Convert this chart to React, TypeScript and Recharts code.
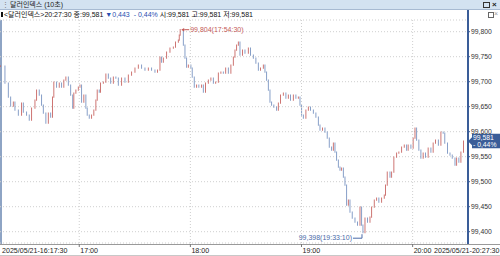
import React from 'react';
import { ComposedChart, Bar, Cell, XAxis, YAxis, CartesianGrid, ReferenceLine, ReferenceDot } from 'recharts';

// minutes elapsed since 2025/05/21 16:17:30
const minutes = [
  0, 2.4, 4.2, 5.5, 6.9, 7.8, 9.6, 11.4, 12.3, 14.1, 15.5, 16.8, 18.6, 19.5, 20.9, 22.2, 23.1, 24.5, 25.8, 27.1,
  28.1, 28.8, 30.3, 31.7, 33, 34.2, 35.3, 36.6, 37.9, 39, 39.6, 40.7, 42, 42.9, 43.8, 45, 46.1, 46.8, 47.9, 49.2,
  50.4, 51.5, 52.2, 53.3, 54, 55.5, 56.9, 58.2, 59.5, 60.9, 62.3, 63.6, 65.4, 67.2, 69, 70.8, 72.6, 74.4, 76.2, 78,
  79.8, 81.6, 83.4, 84.8, 86.1, 87, 87.9, 89.7, 91.5, 93.3, 94.5, 96, 96.5, 97, 98.7, 99.6, 100.5, 101.4, 102.8, 103.5,
  104.6, 105.9, 107.1, 108.6, 109.5, 110.7, 112.2, 113.6, 114.9, 116.2, 117.6, 119, 120.3, 121.6, 123, 124.4, 125.7, 126.6, 127.5, 128.4,
  129.3, 130.7, 132, 133.8, 135, 136.5, 137.9, 139.2, 140.4, 141.9, 142.8, 143.7, 144.6, 145.5, 146.4, 147.6, 149.1, 150, 151.2, 152.7,
  154.1, 155.4, 156.6, 158.1, 159.5, 160.8, 161.7, 162.6, 163.5, 164.9, 166.2, 167.4, 168.9, 170.3, 171.6, 172.5, 173.9, 175.2, 176.4, 177.5,
  178.8, 179.7, 180.6, 181.5, 182.4, 183.3, 184.2, 185.1, 186, 186.9, 187.8, 188.7, 189.9, 191.4, 192.8, 194.1, 195, 195.7, 196.8, 198.2,
  199.5, 200.4, 201.8, 203.1, 204.3, 205.8, 207.2, 207.9, 208.8, 210.3, 211.2, 212.4, 213.9, 215.1, 216.6, 218, 219.3, 220.1, 221.6, 222.8,
  223.8, 224.7, 225.9, 227, 228.2, 229.5, 230.9, 232.4, 233.6, 234.9, 236.4, 237.8, 239, 239.9, 241.4, 242.7, 243.9, 245.4, 246.3, 247.5,
  248.6, 250,
];

const prices = [
  99.731, 99.697, 99.669, 99.651, 99.659, 99.643, 99.633, 99.657, 99.639, 99.633, 99.623, 99.647, 99.663, 99.683, 99.673, 99.653, 99.637, 99.617, 99.637, 99.629,
  99.669, 99.699, 99.689, 99.697, 99.689, 99.703, 99.709, 99.693, 99.673, 99.647, 99.677, 99.683, 99.689, 99.693, 99.659, 99.673, 99.647, 99.633, 99.627, 99.633,
  99.643, 99.663, 99.683, 99.679, 99.697, 99.699, 99.715, 99.707, 99.697, 99.709, 99.707, 99.693, 99.707, 99.699, 99.713, 99.719, 99.727, 99.733, 99.727, 99.723,
  99.727, 99.723, 99.719, 99.723, 99.749, 99.739, 99.747, 99.759, 99.767, 99.769, 99.779, 99.783, 99.793, 99.804, 99.773, 99.747, 99.729, 99.733, 99.727, 99.709,
  99.689, 99.693, 99.689, 99.693, 99.679, 99.697, 99.703, 99.707, 99.697, 99.699, 99.717, 99.719, 99.717, 99.727, 99.717, 99.733, 99.749, 99.763, 99.773, 99.779,
  99.753, 99.763, 99.757, 99.767, 99.753, 99.747, 99.737, 99.723, 99.727, 99.733, 99.719, 99.703, 99.683, 99.659, 99.653, 99.649, 99.643, 99.657, 99.673, 99.677,
  99.667, 99.673, 99.663, 99.673, 99.667, 99.669, 99.653, 99.633, 99.627, 99.643, 99.649, 99.643, 99.637, 99.629, 99.613, 99.603, 99.607, 99.599, 99.587, 99.569,
  99.563, 99.577, 99.559, 99.543, 99.529, 99.523, 99.527, 99.509, 99.493, 99.453, 99.463, 99.439, 99.427, 99.419, 99.413, 99.449, 99.413, 99.398, 99.427, 99.419,
  99.429, 99.449, 99.463, 99.467, 99.459, 99.467, 99.473, 99.493, 99.519, 99.509, 99.519, 99.549, 99.557, 99.559, 99.569, 99.573, 99.563, 99.573, 99.567, 99.587,
  99.607, 99.583, 99.563, 99.547, 99.557, 99.549, 99.567, 99.559, 99.577, 99.583, 99.573, 99.599, 99.597, 99.577, 99.557, 99.553, 99.547, 99.533, 99.547, 99.539,
  99.559, 99.581,
];

const xTickMinutes = [0, 42.5, 102.5, 162.5, 222.5, 250];
const xTickLabels = ['2025/05/21-16:17:30', '17:00', '18:00', '19:00', '20:00', '2025/05/21-20:27:30'];
const hourMinutes = [42.5, 102.5, 162.5, 222.5];
const yTicks = [99.4, 99.45, 99.5, 99.55, 99.6, 99.65, 99.7, 99.75, 99.8];

const highPoint = { t: 97, p: 99.804, label: '99,804(17:54:30)' };
const lowPoint = { t: 195.7, p: 99.398, label: '99,398(19:33:10)' };
const lastPrice = 99.581;
const lastPriceLabel = '99,581';
const lastChangeLabel = '- 0,44%';

const titleText = '달러인덱스 (10초)';
const infoParts = [
  { text: '<달러인덱스>20:27:30 종:99,581 ', color: '#111' },
  { text: '▼0,443  - 0,44% ', color: '#2a4fb0' },
  { text: '시:99,581 고:99,581 저:99,581', color: '#111' },
];

const UP = '#c45a57';
const DOWN = '#6f8cbd';
const AXIS_BLUE = '#3a5d98';
const FONT = '"Liberation Sans", "Noto Sans CJK KR", sans-serif';

const data = minutes.map((t, i) => {
  const prev = i === 0 ? prices[0] : prices[i - 1];
  const p = prices[i];
  return { t, range: [Math.min(prev, p) - 0.0012, Math.max(prev, p) + 0.0012], up: p >= prev };
});

const fmt = (v: number) => v.toFixed(3).replace('.', ',');

const XTick = (props: any) => {
  const { x, payload } = props;
  const i = xTickMinutes.indexOf(payload.value);
  if (i < 0) return null;
  const label = xTickLabels[i];
  const first = i === 0;
  const last = i === xTickLabels.length - 1;
  const tx = first ? 2 : last ? 499.5 : x + 1;
  return (
    <g>
      {!first && !last && <line x1={x} x2={x} y1={244} y2={247} stroke="#777" strokeWidth={1} />}
      <text x={tx} y={253} textAnchor={last ? 'end' : 'start'} fontSize={7.1} fontFamily={FONT} fill="#222">
        {label}
      </text>
    </g>
  );
};

const HighShape = (props: any) => {
  const { cx, cy } = props;
  return (
    <g>
      <path d={`M${cx + 1},${cy} L${cx + 4},${cy - 1.8} L${cx + 4},${cy + 1.8} Z`} fill={UP} />
      <line x1={cx + 4} y1={cy} x2={cx + 9} y2={cy} stroke={UP} strokeWidth={1} />
      <text x={cx + 10} y={cy + 2.5} fontSize={7} fontFamily={FONT} fill={UP}>{highPoint.label}</text>
    </g>
  );
};

const LowShape = (props: any) => {
  const { cx, cy } = props;
  return (
    <g>
      <text x={cx - 11} y={cy + 7.5} textAnchor="end" fontSize={7} fontFamily={FONT} fill="#4a6aa8">{lowPoint.label}</text>
      <polyline points={`${cx - 10},${cy + 5.5} ${cx - 1},${cy + 5.5} ${cx - 1},${cy + 1.5}`} fill="none" stroke="#4a6aa8" strokeWidth={1} />
    </g>
  );
};

const PriceTag = (props: any) => {
  const { cx, cy } = props;
  const left = cx + 2;
  return (
    <g>
      <path d={`M${cx},${cy} L${left + 2},${cy - 4} L${left + 2},${cy - 7.5} L500,${cy - 7.5} L500,${cy + 7} L${left + 2},${cy + 7} L${left + 2},${cy + 4} Z`} fill={AXIS_BLUE} />
      <text x={left + 3} y={cy - 1.3} fontSize={6.8} fontFamily={FONT} fill="#fff">{lastPriceLabel}</text>
      <text x={left + 3} y={cy + 5.5} fontSize={6.8} fontFamily={FONT} fill="#fff">{lastChangeLabel}</text>
    </g>
  );
};

export default function App() {
  return (
    <div style={{ position: 'fixed', left: 0, top: 0, width: 500, height: 256, background: '#fff', overflow: 'hidden', fontFamily: FONT }}>
      {/* title bar */}
      <div style={{ position: 'absolute', left: 0, top: 0, width: 500, height: 9, background: '#d3e2f1', borderBottom: '1px solid #a7bad2' }} />
      <div style={{ position: 'absolute', left: 2, top: 0, fontSize: 7, lineHeight: '9px', color: '#777' }}>⋮</div>
      <div style={{ position: 'absolute', left: 10, top: 0, fontSize: 7, lineHeight: '9px', color: '#222' }}>{titleText}</div>
      <div style={{ position: 'absolute', left: 483, top: 2, width: 5, height: 4, border: '1px solid #333' }} />
      <div style={{ position: 'absolute', left: 492, top: 0, fontSize: 8, lineHeight: '9px', color: '#222', fontWeight: 'bold' }}>×</div>
      {/* info line */}
      <div style={{ position: 'absolute', left: 1, top: 10, fontSize: 7, lineHeight: '10px', whiteSpace: 'pre', color: '#111' }}>
        <span style={{ display: 'inline-block', width: 2, height: 5, background: '#111', marginRight: 1 }} />
        {infoParts.map((p, i) => (
          <span key={i} style={{ color: p.color }}>{p.text}</span>
        ))}
      </div>
      <div style={{ position: 'absolute', left: 488, top: 12, width: 4, height: 4, border: '1px solid #666' }} />
      <div style={{ position: 'absolute', left: 494, top: 9, fontSize: 7, lineHeight: '10px', color: '#999' }}>×</div>
      {/* left border */}
      <div style={{ position: 'absolute', left: 0, top: 20, width: 1.5, height: 224, background: '#8ea4c4' }} />
      {/* x axis line and bottom border */}
      <div style={{ position: 'absolute', left: 0, top: 243.5, width: 500, height: 1, background: '#9a9a9a' }} />
      <div style={{ position: 'absolute', left: 0, top: 255, width: 500, height: 1, background: '#c8c8c8' }} />
      <div style={{ position: 'absolute', left: 0, top: 0 }}>
        <ComposedChart width={500} height={256} data={data} margin={{ top: 20, right: 0, bottom: 0, left: 0 }} barGap={0}>
          <CartesianGrid vertical={false} stroke="#cfcfcf" strokeDasharray="1 2" />
          {hourMinutes.map((m) => (
            <ReferenceLine key={m} x={m} stroke="#cfcfcf" strokeDasharray="1 2" />
          ))}
          <XAxis
            type="number"
            dataKey="t"
            domain={[-0.3, 252.4]}
            ticks={xTickMinutes}
            interval={0}
            height={13}
            axisLine={false}
            tickLine={false}
            tick={<XTick />}
            allowDataOverflow
          />
          <YAxis
            orientation="right"
            width={32}
            domain={[99.3774, 99.8234]}
            ticks={yTicks}
            interval={0}
            allowDataOverflow
            axisLine={false}
            tickSize={2}
            tickMargin={1}
            tickLine={{ stroke: AXIS_BLUE }}
            tickFormatter={fmt}
            tick={{ fontSize: 6.8, fontFamily: FONT, fill: '#333' }}
          />
          <Bar dataKey="range" barSize={1.2} isAnimationActive={false}>
            {data.map((d, i) => (
              <Cell key={i} fill={d.up ? UP : DOWN} />
            ))}
          </Bar>
          <ReferenceDot x={highPoint.t} y={highPoint.p} r={0} ifOverflow="visible" shape={<HighShape />} />
          <ReferenceDot x={lowPoint.t} y={lowPoint.p} r={0} ifOverflow="visible" shape={<LowShape />} />
          <ReferenceDot x={252.4} y={lastPrice} r={0} ifOverflow="visible" shape={<PriceTag />} />
        </ComposedChart>
      </div>
      {/* price axis line */}
      <div style={{ position: 'absolute', left: 467, top: 10, width: 2, height: 234, background: AXIS_BLUE }} />
    </div>
  );
}
